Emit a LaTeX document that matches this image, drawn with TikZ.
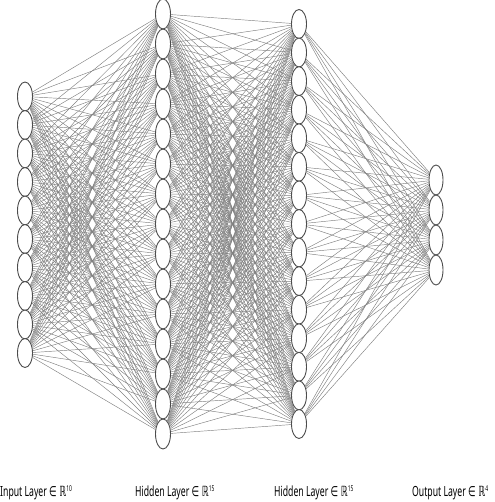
\documentclass[tikz,border=0pt]{standalone}
\usepackage{fontspec}
\usepackage{graphicx}
\setmainfont{Noto Sans}
\newfontfamily\symfont{DejaVu Sans}
\usetikzlibrary{shapes.geometric}

\tikzset{
	neuron/.style={ellipse, draw=black!70, line width=0.9pt, fill=white,
		minimum width=15pt, minimum height=29pt, inner sep=0pt},
	synapse/.style={draw=black!50, line width=0.45pt},
	layerlabel/.style={anchor=base west, inner sep=0pt}
}
\newcommand{\layertext}[2]{\scalebox{0.62}[1]{\fontsize{14pt}{14pt}\selectfont #1 Layer {\symfont ∈ ℝ}\raisebox{5pt}{\fontsize{8pt}{8pt}\selectfont #2}}}

\begin{document}
\begin{tikzpicture}[x=1pt,y=-1pt]
		\useasboundingbox (0,0) rectangle (494,502);
		
		% Input layer
		\foreach \i in {1,...,10}
			\node[neuron] (in\i) at (25,{96.5+28.5*(\i-1)}) {};
		
		% First hidden layer
		\foreach \i in {1,...,15}
			\node[neuron, minimum height=30pt] (ha\i) at (163,{14+30*(\i-1)}) {};
		
		% Second hidden layer
		\foreach \i in {1,...,15}
			\node[neuron] (hb\i) at (299,{24+28.57*(\i-1)}) {};
		
		% Output layer
		\foreach \i in {1,...,4}
			\node[neuron, minimum height=30pt, minimum width=14pt] (out\i) at (436,{180+30*(\i-1)}) {};
		
		% Connections
		\foreach \i in {1,...,10}
			\foreach \j in {1,...,15}
				\draw[synapse] (in\i) -- (ha\j);
		\foreach \i in {1,...,15}
			\foreach \j in {1,...,15}
				\draw[synapse] (ha\i) -- (hb\j);
		\foreach \i in {1,...,15}
			\foreach \j in {1,...,4}
				\draw[synapse] (hb\i) -- (out\j);
		
		% Layer labels
		\node[layerlabel] (lin) at (0,496) {\layertext{Input}{10}};
		\node[layerlabel] (lha) at (135,496) {\layertext{Hidden}{15}};
		\node[layerlabel] (lhb) at (274,496) {\layertext{Hidden}{15}};
		\node[layerlabel] (lout) at (412,496) {\layertext{Output}{4}};
		
	\end{tikzpicture}
\end{document}
